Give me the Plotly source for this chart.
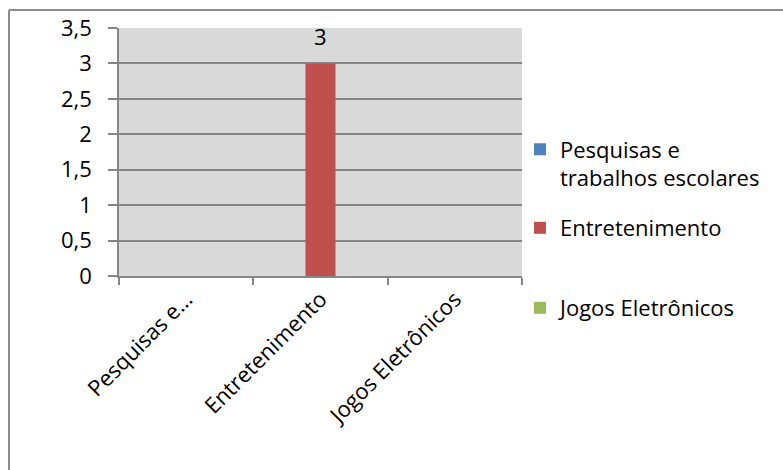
import plotly.graph_objects as go

# Categories on the x axis (as displayed, first one truncated)
categories = ["Pesquisas e…", "Entretenimento", "Jogos Eletrônicos"]

# One series per activity; only "Entretenimento" has a value
series_names = ["Pesquisas e<br>trabalhos escolares", "Entretenimento", "Jogos Eletrônicos"]
pesquisas_values = [None, None, None]
entretenimento_values = [None, 3, None]
jogos_values = [None, None, None]

y_ticks = [0, 0.5, 1, 1.5, 2, 2.5, 3, 3.5]

colors = ["#4f81bd", "#c0504d", "#9bbb59"]
series_values = [pesquisas_values, entretenimento_values, jogos_values]
legend_ids = ["legend", "legend2", "legend3"]

FONT = "Open Sans"
FS = 22
W, H = 783, 470
ML, MR, MT, MB = 119, 261, 28, 194
PW, PH = W - ML - MR, H - MT - MB

fig = go.Figure()
for name, vals, col, lg in zip(series_names, series_values, colors, legend_ids):
    fig.add_trace(go.Bar(
        x=categories, y=vals, name=name, marker=dict(color=col, line=dict(width=0)),
        legend=lg,
    ))

# Value label above the single non-empty bar
for vals in series_values:
    for cat, v in zip(categories, vals):
        if v is not None:
            fig.add_annotation(
                x=cat, y=v, text=str(v).replace(".", ","), showarrow=False,
                yanchor="bottom", yshift=10,
                font=dict(family=FONT, size=FS, color="black"),
            )

def px_x(p):
    return (p - ML) / PW

def px_y(p):
    return (H - MB - p) / PH

grid = "#868686"
legend_font = dict(family=FONT, size=FS, color="black")
leg_common = dict(
    font=legend_font, bgcolor="rgba(0,0,0,0)", borderwidth=0,
    xanchor="left", yanchor="middle", valign="top",
    x=px_x(520), itemclick=False,
)

fig.update_layout(
    width=W, height=H,
    margin=dict(l=ML, r=MR, t=MT, b=MB),
    paper_bgcolor="white", plot_bgcolor="#d9d9d9",
    barmode="group", bargap=0.33, bargroupgap=0,
    separators=",.",
    font=dict(family=FONT, size=FS, color="black"),
    showlegend=True,
    legend=dict(**leg_common, y=px_y(164)),
    legend2=dict(**leg_common, y=px_y(228)),
    legend3=dict(**leg_common, y=px_y(308)),
    xaxis=dict(
        type="category", tickangle=-45,
        showline=True, linecolor=grid, linewidth=1.5,
        ticks="outside", ticklen=7, tickcolor=grid, tickwidth=1.5,
        tickson="boundaries", showgrid=False,
        tickfont=dict(family=FONT, size=FS, color="black"),
    ),
    yaxis=dict(
        range=[0, 3.5], tickvals=y_ticks,
        showline=True, linecolor=grid, linewidth=1.5,
        ticks="outside", ticklen=9, tickcolor=grid, tickwidth=1.5,
        showgrid=True, gridcolor=grid, gridwidth=1.5, zeroline=False,
        ticklabelstandoff=12,
        tickfont=dict(family=FONT, size=FS, color="black"),
    ),
    shapes=[
        # Chart frame (top and left edges visible)
        dict(type="line", xref="paper", yref="paper",
             x0=px_x(9), y0=px_y(10), x1=px_x(W + 5), y1=px_y(10),
             line=dict(color="#8c8c8c", width=2)),
        dict(type="line", xref="paper", yref="paper",
             x0=px_x(9), y0=px_y(10), x1=px_x(9), y1=px_y(H + 5),
             line=dict(color="#8c8c8c", width=2)),
    ],
)

fig.write_html("out.html")
